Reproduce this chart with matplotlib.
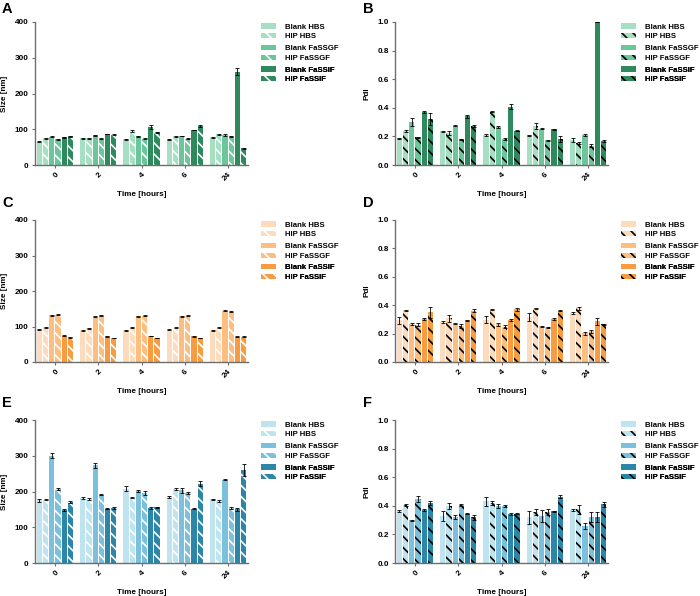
import matplotlib
matplotlib.use('Agg')

import numpy as np
import matplotlib.pyplot as plt
from matplotlib.patches import Patch

plt.rcParams['font.family'] = ['Liberation Sans', 'DejaVu Sans']
plt.rcParams['font.weight'] = 'bold'
plt.rcParams['hatch.linewidth'] = 1.2

times = ['0', '2', '4', '6', '24']
series = ['Blank HBS', 'HIP HBS', 'Blank FaSSGF', 'HIP FaSSGF', 'Blank FaSSIF', 'HIP FaSSIF']

# panel A - size, green
size_a = [[65, 75, 72, 72, 78],
          [75, 75, 95, 81, 86],
          [79, 83, 81, 81, 84],
          [72, 74, 74, 74, 80],
          [78, 87, 106, 98, 261],
          [81, 85, 92, 109, 47]]
err_a = [[1.5, 1, 1.5, 1, 1.5],
         [1.5, 1, 2, 1.5, 1],
         [1.5, 1.5, 1.5, 1, 1.5],
         [1, 1, 1, 1, 1.5],
         [1.5, 1, 5, 1, 10],
         [1.5, 1, 1.5, 1.5, 1]]

# panel B - PdI, green
pdi_b = [[0.187, 0.236, 0.210, 0.208, 0.175],
         [0.238, 0.222, 0.374, 0.271, 0.152],
         [0.299, 0.276, 0.266, 0.255, 0.210],
         [0.194, 0.180, 0.182, 0.173, 0.135],
         [0.371, 0.341, 0.409, 0.250, 1.000],
         [0.322, 0.273, 0.240, 0.182, 0.168]]
perr_b = [[0.004, 0.003, 0.008, 0.004, 0.015],
          [0.004, 0.015, 0.006, 0.02, 0.006],
          [0.028, 0.006, 0.006, 0.004, 0.005],
          [0.005, 0.003, 0.004, 0.004, 0.012],
          [0.006, 0.01, 0.02, 0.004, 0.0],
          [0.04, 0.005, 0.004, 0.02, 0.01]]

# panel C - size, orange
size_c = [[92, 90, 90, 91, 90],
          [98, 95, 96, 97, 96],
          [131, 128, 129, 129, 145],
          [133, 131, 130, 130, 141],
          [74, 73, 73, 73, 71],
          [70, 68, 68, 68, 71]]
err_c = [[1.5, 1.5, 1.5, 1.5, 1.5],
         [1.5, 1.5, 1.5, 1.5, 1.5],
         [1.5, 1.5, 1.5, 1.5, 1.5],
         [1.5, 1.5, 1.5, 1.5, 1.5],
         [1.5, 1.5, 1, 1.5, 1.5],
         [1.5, 1, 1, 1, 1.5]]

# panel D - PdI, orange
pdi_d = [[0.293, 0.281, 0.297, 0.316, 0.344],
         [0.363, 0.309, 0.370, 0.377, 0.377],
         [0.267, 0.269, 0.265, 0.253, 0.201],
         [0.262, 0.255, 0.250, 0.246, 0.215],
         [0.302, 0.293, 0.297, 0.302, 0.286],
         [0.349, 0.361, 0.370, 0.361, 0.265]]
perr_d = [[0.025, 0.008, 0.025, 0.03, 0.005],
          [0.005, 0.025, 0.006, 0.006, 0.008],
          [0.008, 0.004, 0.01, 0.004, 0.01],
          [0.01, 0.013, 0.012, 0.004, 0.01],
          [0.005, 0.004, 0.005, 0.008, 0.022],
          [0.04, 0.012, 0.012, 0.005, 0.005]]

# panel E - size, blue
size_e = [[175, 183, 208, 185, 178],
          [177, 179, 182, 207, 173],
          [300, 273, 201, 203, 233],
          [206, 191, 196, 196, 153],
          [148, 152, 153, 152, 150],
          [171, 153, 156, 221, 260]]
err_e = [[3, 3, 7, 3, 1.5],
         [1.5, 1.5, 1.5, 1.5, 2],
         [7, 8, 2, 6, 1.5],
         [3, 2, 5, 2, 3],
         [2, 1.5, 3, 1.5, 5],
         [2, 3, 2, 7, 18]]

# panel F - PdI, blue
pdi_f = [[0.364, 0.331, 0.431, 0.319, 0.371],
         [0.406, 0.399, 0.420, 0.359, 0.375],
         [0.298, 0.324, 0.401, 0.329, 0.259],
         [0.448, 0.406, 0.399, 0.359, 0.324],
         [0.371, 0.345, 0.345, 0.361, 0.324],
         [0.420, 0.319, 0.345, 0.464, 0.410]]
perr_f = [[0.006, 0.035, 0.03, 0.045, 0.004],
          [0.01, 0.02, 0.012, 0.02, 0.03],
          [0.003, 0.015, 0.015, 0.045, 0.02],
          [0.02, 0.01, 0.01, 0.02, 0.035],
          [0.005, 0.004, 0.006, 0.003, 0.035],
          [0.012, 0.02, 0.004, 0.012, 0.02]]

greens = ['#a7dfc3', '#a7dfc3', '#6cc69b', '#6cc69b', '#2e8a5d', '#2e8a5d']
oranges = ['#fddcbd', '#fddcbd', '#fdbe80', '#fdbe80', '#f99b40', '#f99b40']
blues = ['#c0e3f0', '#c0e3f0', '#7bc0dc', '#7bc0dc', '#2c86a7', '#2c86a7']

FS = 5.9
LFS = 5.6
WIDTH = 0.12
STEP = 0.143


def draw_panel(ax, vals, errs, colors, hatch_color, ylabel, ymax, yticks, fmt):
    x = np.arange(len(times))
    for i in range(len(series)):
        off = (i - 2.5) * STEP
        hip = series[i].startswith('HIP')
        ax.bar(x + off, vals[i], WIDTH, color=colors[i],
               hatch='\\\\\\' if hip else None,
               edgecolor=hatch_color if hip else colors[i], linewidth=0,
               yerr=errs[i],
               error_kw=dict(elinewidth=0.6, capsize=1.2, capthick=0.6, ecolor='black'))
    ax.set_xlim(-0.46, len(times) - 1 + 0.46)
    ax.set_ylim(0, ymax)
    ax.set_yticks(yticks)
    ax.set_yticklabels([fmt.format(v) for v in yticks], fontsize=FS, fontweight='bold')
    ax.set_xticks(x)
    ax.set_xticklabels(times, fontsize=FS, fontweight='bold', rotation=45,
                       ha='right', rotation_mode='anchor')
    ax.set_ylabel(ylabel, fontsize=FS, fontweight='bold', labelpad=5)
    ax.set_xlabel('Time [hours]', fontsize=FS, fontweight='bold', labelpad=6)
    for s in ['top', 'right']:
        ax.spines[s].set_visible(False)
    for s in ['left', 'bottom']:
        ax.spines[s].set_color('#6e6e6e')
        ax.spines[s].set_linewidth(1.0)
    ax.tick_params(axis='both', length=2.5, width=0.8, color='#6e6e6e', pad=2)

    # three legends, one per pair of media
    ys = [0.99, 0.838, 0.69]
    for k in range(3):
        handles = []
        for i in (2 * k, 2 * k + 1):
            hip = series[i].startswith('HIP')
            handles.append(Patch(facecolor=colors[i],
                                 edgecolor=hatch_color if hip else colors[i],
                                 hatch='\\\\\\' if hip else None, linewidth=0,
                                 label=series[i]))
        leg = ax.legend(handles=handles, loc='upper left', bbox_to_anchor=(1.06, ys[k]),
                        frameon=False, prop={'size': LFS, 'weight': 'bold'},
                        handlelength=2.0, handleheight=0.65, handletextpad=1.1,
                        labelspacing=0.3, borderpad=0, borderaxespad=0)
        ax.add_artist(leg)


fig = plt.figure(figsize=(7.0, 5.96), dpi=100)
W, H = 700.0, 596.0
rows = [(22, 165), (220, 362), (420, 563)]
cols = [(35, 248), (395, 608)]

panels = [
    (size_a, err_a, greens, 'white', 'Size [nm]', 400, [0, 100, 200, 300, 400], '{:d}'),
    (pdi_b, perr_b, greens, 'black', 'PdI', 1.0, [0.0, 0.2, 0.4, 0.6, 0.8, 1.0], '{:.1f}'),
    (size_c, err_c, oranges, 'white', 'Size [nm]', 400, [0, 100, 200, 300, 400], '{:d}'),
    (pdi_d, perr_d, oranges, 'black', 'PdI', 1.0, [0.0, 0.2, 0.4, 0.6, 0.8, 1.0], '{:.1f}'),
    (size_e, err_e, blues, 'white', 'Size [nm]', 400, [0, 100, 200, 300, 400], '{:d}'),
    (pdi_f, perr_f, blues, 'black', 'PdI', 1.0, [0.0, 0.2, 0.4, 0.6, 0.8, 1.0], '{:.1f}'),
]
letters = ['A', 'B', 'C', 'D', 'E', 'F']
letter_y = [2, 2, 196, 196, 396, 396]
letter_x = [2, 363]

for n, p in enumerate(panels):
    r, c = n // 2, n % 2
    top, bot = rows[r]
    left, right = cols[c]
    ax = fig.add_axes([left / W, 1 - bot / H, (right - left) / W, (bot - top) / H])
    draw_panel(ax, *p)
    fig.text(letter_x[c] / W, 1 - letter_y[n] / H, letters[n], fontsize=10.5,
             fontweight='bold', ha='left', va='top')

plt.savefig('out.png', dpi=100)
plt.close()
